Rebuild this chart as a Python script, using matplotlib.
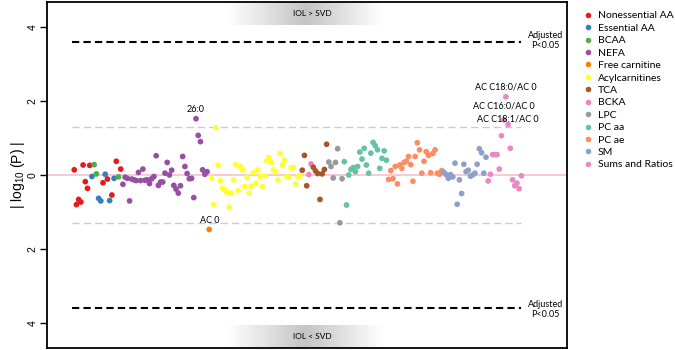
import numpy as np
import matplotlib.pyplot as plt
from matplotlib.colors import LinearSegmentedColormap
from matplotlib.lines import Line2D

classes = ["Nonessential AA", "Essential AA", "BCAA", "NEFA", "Free carnitine",
           "Acylcarnitines", "TCA", "BCKA", "LPC", "PC aa", "PC ae", "SM",
           "Sums and Ratios"]

# amino acids are interleaved: 0 = nonessential, 1 = essential, 2 = BCAA
aa_group = [0, 0, 0, 0, 0, 0, 0, 0, 1, 2, 2, 1, 1, 0, 1, 0, 1, 0, 1, 0, 2, 0]
aa_logp = [0.14, -0.80, -0.66, -0.73, 0.27, -0.18, -0.36, 0.26, -0.04, 0.28, 0.03,
           -0.63, -0.70, -0.21, 0.02, -0.11, -0.69, -0.54, -0.09, 0.37, -0.05, 0.16]
nefa_logp = [-0.25, -0.06, -0.09, -0.70, -0.11, -0.13, -0.15, 0.07, -0.15, 0.16,
             -0.14, -0.13, -0.23, -0.10, -0.04, 0.52, -0.28, -0.19, -0.19, 0.05,
             0.34, 0.00, 0.13, -0.28, -0.38, -0.49, -0.29, 0.50, 0.23, 0.04,
             -0.10, -0.09, -0.61, 1.52, 1.07, 0.90, 0.14, 0.02, 0.09]
carnitine_logp = [-1.47]
acyl_logp = [-0.08, -0.80, 1.28, 0.27, -0.15, -0.36, -0.40, -0.48, -0.87, -0.49,
             -0.13, 0.28, -0.42, 0.23, 0.14, -0.31, -0.06, -0.49, -0.30, 0.07,
             -0.22, 0.14, -0.04, -0.31, -0.02, 0.38, 0.47, 0.34, 0.14, 0.09,
             -0.13, 0.58, 0.27, 0.40, -0.05, -0.06, 0.19, 0.20, -0.24, -0.05, -0.02]
# TCA (6) and BCKA (7) are interleaved
tca_group = [6, 6, 6, 7, 7, 6, 6, 6, 6, 6, 6, 6]
tca_logp = [0.13, 0.53, -0.29, 0.01, 0.30, 0.21, 0.11, 0.04, -0.66, 0.03, 0.15, 0.83]
lpc_logp = [0.35, 0.23, -0.08, 0.34, 0.71, -1.29, -0.10]
pcaa_logp = [0.36, -0.81, 0.00, 0.15, 0.20, 0.09, 0.23, 0.62, 0.43, 0.72,
             0.27, 0.05, 0.59, 0.88, 0.79, 0.68, 0.18, 0.45, 0.65, 0.40]
pcae_logp = [-0.12, 0.12, -0.10, 0.23, -0.24, 0.27, 0.18, 0.34, 0.37, 0.50,
             0.28, -0.17, 0.50, 0.87, 0.68, 0.05, 0.37, 0.63, 0.53, 0.06,
             0.58, 0.68, 0.05, 0.02, 0.12]
sm_logp = [0.07, 0.01, -0.09, 0.01, -0.05, 0.32, -0.79, -0.13, -0.50, 0.29,
           0.09, 0.13, -0.03, 0.00, 0.05, 0.29, 0.71, 0.60, 0.05, 0.48]
ratio_logp = [-0.16, 0.02, 0.55, 0.55, 0.55, 0.16, 1.06, 1.49, 2.11, 1.36,
              0.72, -0.13, -0.29, -0.22, -0.37, -0.02]

# names of the metabolites above the nominal p<0.05 line, in plot order
sig_names = ["26:0", "AC 0", "AC C16:0/AC 0", "AC C18:0/AC 0", "AC C18:1/AC 0"]
nominal_line = -np.log10(0.05)
adjusted_line = 3.6
yticks = [-4, -2, 0, 2, 4]

colors = ["#e41a1c", "#377eb8", "#4daf4a", "#984ea3", "#ff7f00", "#ffff33", "#a65628",
          "#f781bf", "#999999", "#66c2a5", "#fc8d62", "#8da0cb", "#e78ac3"]

group = (aa_group + [3] * len(nefa_logp) + [4] * len(carnitine_logp)
         + [5] * len(acyl_logp) + tca_group + [8] * len(lpc_logp)
         + [9] * len(pcaa_logp) + [10] * len(pcae_logp) + [11] * len(sm_logp)
         + [12] * len(ratio_logp))
logp = np.array(aa_logp + nefa_logp + carnitine_logp + acyl_logp + tca_logp + lpc_logp
                + pcaa_logp + pcae_logp + sm_logp + ratio_logp)
group = np.array(group)
x = np.arange(len(logp))
n = len(logp)

fig = plt.figure(figsize=(6.75, 3.5), dpi=100)
ax = fig.add_axes([47 / 675, 2 / 350, 520 / 675, 346 / 350])

# shaded direction bands top and bottom
band = LinearSegmentedColormap.from_list("band", ["#ffffff", "#c4c4c4", "#ffffff"])
grad = np.linspace(0, 1, 256).reshape(1, -1)
for y0, txt in [(0.934, "IOL > SVD"), (0.0, "IOL < SVD")]:
    ax.imshow(grad, cmap=band, aspect="auto", extent=[0.348, 0.646, y0, y0 + 0.066],
              transform=ax.transAxes, zorder=0)
    ax.text(0.51, y0 + 0.033, txt, transform=ax.transAxes, ha="center", va="center",
            fontsize=6, family="Lato", zorder=1)

ax.axhline(0, color="#f7c5d2", lw=1.3, zorder=1)
for s in (1, -1):
    ax.hlines(s * nominal_line, -1, n - 1, colors="#cccccc", lw=1,
              linestyles=(0, (5.2, 3)), zorder=1)
    ax.hlines(s * adjusted_line, -1, n - 1, colors="black", lw=1.5,
              linestyles=(0, (3.5, 2)), zorder=1)
    ax.text(n + 10, s * 3.63, "Adjusted\nP<0.05", ha="center", va="center",
            fontsize=6.5, family="Lato", linespacing=1.1)

ax.scatter(x, logp, c=[colors[g] for g in group], s=17, linewidths=0, zorder=3)

sig = np.where(np.abs(logp) > nominal_line)[0]
for name, i in zip(sig_names, sig):
    # the two crowded ratio labels are pushed apart a little
    dy = {"AC C16:0/AC 0": 6.5, "AC C18:1/AC 0": 1.0}.get(name, 3.5)
    ax.annotate(name, (x[i], logp[i]), xytext=(0, dy), textcoords="offset points",
                ha="center", va="bottom", fontsize=6.5, family="Lato", zorder=4)

ax.set_xlim(-12.3, n - 1 + 20.6)
ax.set_ylim(-4.67, 4.67)
ax.set_xticks([])
ax.set_yticks(yticks)
ax.set_yticklabels([str(abs(t)) for t in yticks], rotation=90, va="center",
                   fontsize=7.5, family="Liberation Sans")
ax.tick_params(axis="y", length=5, width=1, pad=2)
ax.set_ylabel(r"| $\mathregular{log_{10}}$ (P) |", fontsize=10, family="Liberation Sans",
              labelpad=0)
for sp in ax.spines.values():
    sp.set_linewidth(1.3)

handles = [Line2D([], [], marker="o", ls="", color=c, markersize=4, markeredgewidth=0)
           for c in colors]
fig.legend(handles, classes, loc="upper left", bbox_to_anchor=(578 / 675, 1 - 7 / 350),
           frameon=False, prop={"family": "Lato", "size": 7.5}, labelspacing=0.3,
           handletextpad=0.3, handlelength=1.2, borderaxespad=0)

fig.savefig("out.png", dpi=100)
